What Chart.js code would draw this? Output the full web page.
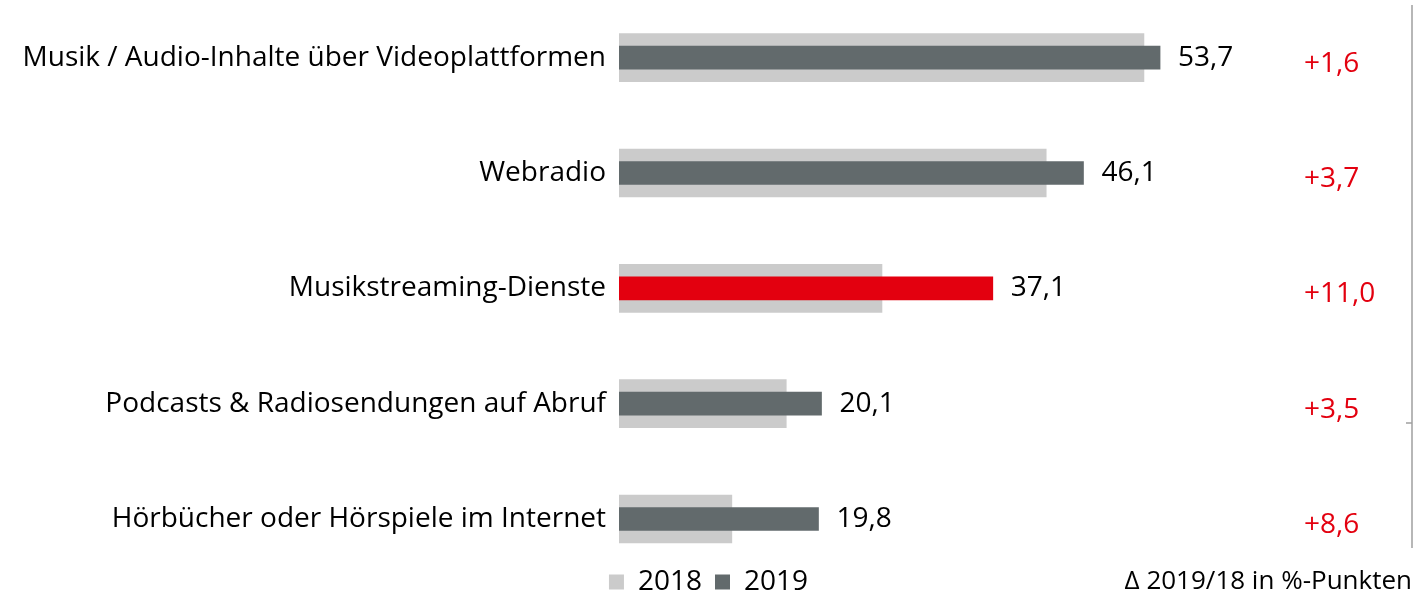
<!DOCTYPE html>
<html>
<head>
<meta charset="utf-8">
<script src="https://cdn.jsdelivr.net/npm/chart.js@4"></script>
<style>
    html, body { margin: 0; padding: 0; background: #fff; }
    #wrap { width: 1417px; height: 599px; position: relative; }
</style>
</head>
<body>
<div id="wrap"><canvas id="chart"></canvas></div>
<script>
// Daten
var categories = [
    'Musik / Audio-Inhalte über Videoplattformen',
    'Webradio',
    'Musikstreaming-Dienste',
    'Podcasts & Radiosendungen auf Abruf',
    'Hörbücher oder Hörspiele im Internet'
];
var values2018 = [52.1, 42.4, 26.1, 16.6, 11.2];
var values2019 = [53.7, 46.1, 37.1, 20.1, 19.8];
var deltas = [1.6, 3.7, 11.0, 3.5, 8.6];
var seriesNames = ['2018', '2019'];
var deltaTitle = 'Δ 2019/18 in %-Punkten';

var lightGray = '#cbcbcb',
    darkGray = '#626a6c',
    red = '#e3000f';
var fontFamily = "'Open Sans', sans-serif";

function fmt(v) {
    return v.toFixed(1).replace('.', ',');
}

Chart.defaults.font.family = fontFamily;
Chart.defaults.font.size = 28;
Chart.defaults.color = '#000';

// Werte, Delta-Spalte, rechte Linie
var labelPlugin = {
    id: 'labels',
    afterDatasetsDraw: function (chart) {
        var ctx = chart.ctx;
        var meta = chart.getDatasetMeta(1);
        ctx.save();
        ctx.font = '28px ' + fontFamily;
        ctx.textBaseline = 'middle';
        meta.data.forEach(function (bar, i) {
            ctx.fillStyle = '#000';
            ctx.textAlign = 'left';
            ctx.fillText(fmt(values2019[i]), bar.x + 18, bar.y);
            ctx.fillStyle = red;
            ctx.fillText('+' + fmt(deltas[i]), 1304, bar.y + 6);
        });
        ctx.fillStyle = '#000';
        ctx.textAlign = 'right';
        ctx.font = '26px ' + fontFamily;
        ctx.fillText(deltaTitle, 1412, 582);
        ctx.strokeStyle = '#a0a0a0';
        ctx.lineWidth = 1.5;
        ctx.beginPath();
        ctx.moveTo(1412, 5);
        ctx.lineTo(1412, 548);
        ctx.moveTo(1406, 423);
        ctx.lineTo(1412, 423);
        ctx.stroke();
        ctx.restore();
    }
};

var ctx = document.getElementById('chart');
var myBarChart = new Chart(ctx, {
    type: 'bar',
    data: {
        datasets: [
            {
                label: seriesNames[0],
                data: values2018.map(function (v, i) { return { x: v, y: i }; }),
                backgroundColor: lightGray,
                barThickness: 48,
                grouped: false,
                order: 1
            },
            {
                label: seriesNames[1],
                data: values2019.map(function (v, i) { return { x: v, y: i }; }),
                backgroundColor: values2019.map(function (v, i) { return i === 2 ? red : darkGray; }),
                barThickness: 23,
                grouped: false,
                order: 0
            }
        ]
    },
    options: {
        indexAxis: 'y',
        responsive: true,
        maintainAspectRatio: false,
        animation: false,
        layout: { padding: { top: -2, right: 0, bottom: -7, left: 0 } },
        scales: {
            x: {
                type: 'linear',
                min: 0,
                max: 79.2,
                display: false
            },
            y: {
                type: 'linear',
                reverse: true,
                offset: false,
                min: -0.5,
                max: 4.312,
                grid: { display: false, drawTicks: false },
                border: { display: false },
                afterBuildTicks: function (scale) {
                    scale.ticks = categories.map(function (c, i) { return { value: i }; });
                },
                afterFit: function (scale) {
                    scale.width = 619;
                    scale.paddingTop = 0;
                    scale.paddingBottom = 0;
                },
                ticks: {
                    autoSkip: false,
                    padding: 13,
                    color: '#000',
                    font: { size: 28 },
                    callback: function (v) { return categories[v]; }
                }
            }
        },
        plugins: {
            legend: {
                position: 'bottom',
                labels: {
                    boxWidth: 15,
                    boxHeight: 15,
                    padding: 13,
                    color: '#000',
                    font: { size: 28 },
                    generateLabels: function (chart) {
                        return chart.data.datasets.map(function (ds, i) {
                            return {
                                text: ds.label,
                                fillStyle: i === 0 ? lightGray : darkGray,
                                strokeStyle: 'rgba(0,0,0,0)',
                                lineWidth: 0,
                                hidden: false,
                                datasetIndex: i
                            };
                        });
                    }
                }
            },
            tooltip: { enabled: false }
        }
    },
    plugins: [labelPlugin]
});
</script>
</body>
</html>
